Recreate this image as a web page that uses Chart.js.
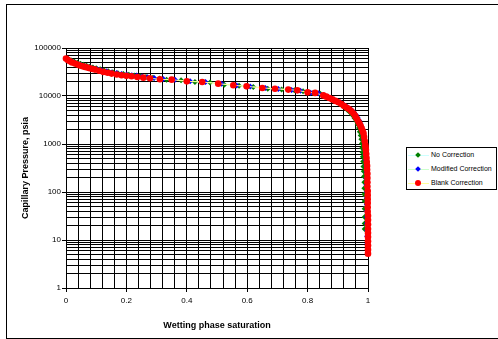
<!DOCTYPE html>
<html>
<head>
<meta charset="utf-8">
<script src="https://cdn.jsdelivr.net/npm/chart.js@4.4.0/dist/chart.umd.min.js"></script>
<style>
  body { margin: 0; background: #fff; font-family: "Liberation Sans", Arial, sans-serif; }
  #wrap { position: relative; width: 498px; height: 339px; overflow: hidden; }
  #frame { position: absolute; left: 6px; top: 4px; width: 600px; height: 333px; border: 1px solid #000; pointer-events: none; }
  #legend { position: absolute; left: 406px; top: 147px; width: 89px; height: 41px; border: 1px solid #000; background: #fff; font-size: 7px; color: #000; }
  .row { position: absolute; left: 0; width: 100%; height: 14px; }
  .ln { position: absolute; left: 1px; width: 21px; top: 7px; height: 1px; }
  .mk { position: absolute; }
  .t { position: absolute; left: 24px; top: 2px; line-height: 10px; white-space: nowrap; color: #000; }
</style>
</head>
<body>
<div id="wrap">
  <canvas id="chart" width="498" height="339"></canvas>
  <div id="frame"></div>
  <div id="legend"></div>
</div>
<script>
// Datos (saturación, presión capilar psia)
const seriesNames = ['No Correction', 'Modified Correction', 'Blank Correction'];

const satNoCorr = [0.008, 0.018, 0.028, 0.038, 0.048, 0.058, 0.068, 0.078, 0.089, 0.1,
  0.113, 0.126, 0.14, 0.155, 0.172, 0.19, 0.208, 0.226, 0.245, 0.265,
  0.288, 0.31, 0.333, 0.381, 0.427, 0.477, 0.524, 0.573, 0.62, 0.668,
  0.714, 0.756, 0.785, 0.818, 0.842,
  0.858, 0.869, 0.88, 0.891, 0.902, 0.912, 0.922, 0.931, 0.94, 0.948,
  0.955, 0.961, 0.966, 0.97, 0.973, 0.976, 0.978, 0.98, 0.981, 0.982,
  0.983, 0.984, 0.985, 0.986, 0.987, 0.988, 0.988, 0.988, 0.989, 0.989,
  0.989, 0.989, 0.989];
const pcNoCorr = [58500, 55000, 52000, 49200, 46800, 44600, 42600, 40800, 39200, 37700,
  36000, 34400, 32800, 31300, 29900, 28600, 27600, 26700, 25800, 24900,
  24000, 23100, 21900, 21200, 19600, 19000, 17200, 16400, 15400, 14200,
  13700, 13200, 12600, 11600, 11200,
  10000, 9300, 8600, 7900, 7200, 6500, 5800, 5200, 4600, 4000,
  3500, 3000, 2550, 2150, 1800, 1500, 1250, 1020, 830, 670,
  540, 430, 340, 270, 210, 160, 120, 90, 65, 45,
  30, 22, 17];

const satModified = [0.004, 0.012, 0.021, 0.03, 0.04, 0.05, 0.06, 0.07, 0.08, 0.092,
  0.104, 0.118, 0.135, 0.151, 0.168, 0.184, 0.201, 0.218, 0.234, 0.252,
  0.27, 0.292, 0.322, 0.361, 0.411, 0.462, 0.515, 0.565, 0.61, 0.66,
  0.703, 0.747, 0.776, 0.81, 0.836,
  0.855, 0.866, 0.877, 0.888, 0.899, 0.91, 0.92, 0.93, 0.939, 0.947,
  0.954, 0.96, 0.966, 0.971, 0.975, 0.979, 0.982, 0.985, 0.987, 0.989,
  0.991, 0.992, 0.993, 0.994, 0.995, 0.995, 0.995, 0.996, 0.996, 0.996,
  0.996, 0.996, 0.996, 0.997, 0.997, 0.998, 0.999, 1];
const pcModified = [59500, 55500, 52000, 48800, 46300, 44000, 42200, 40600, 39200, 37600,
  36200, 34500, 32700, 31000, 30200, 28900, 27900, 27200, 26600, 25500,
  24600, 23600, 22500, 21700, 20300, 19500, 17900, 16600, 15800, 14600,
  14000, 13400, 12900, 11700, 11400,
  10200, 9600, 9000, 8400, 7800, 7200, 6600, 6000, 5500, 5000,
  4500, 4000, 3500, 3050, 2650, 2250, 1900, 1550, 1250, 1000,
  780, 600, 460, 350, 260, 190, 140, 100, 75, 55,
  40, 30, 22, 16, 12, 8.5, 6.5, 5.2];

const satBlank = [0, 0.006, 0.013, 0.02, 0.03, 0.038, 0.046, 0.055, 0.063, 0.071,
  0.079, 0.088, 0.096, 0.11, 0.124, 0.138, 0.151, 0.168, 0.184, 0.2,
  0.217, 0.236, 0.256, 0.278, 0.311, 0.35, 0.4, 0.451, 0.504, 0.554,
  0.598, 0.65, 0.692, 0.736, 0.766, 0.8, 0.825,
  0.852, 0.862, 0.872, 0.882, 0.892, 0.902, 0.912, 0.921, 0.93, 0.938,
  0.945, 0.952, 0.958, 0.963, 0.968, 0.972, 0.976, 0.979, 0.982, 0.985,
  0.987, 0.989, 0.991, 0.992, 0.993, 0.994, 0.995, 0.996, 0.997, 0.997,
  0.998, 0.998, 0.998, 0.998, 0.999, 0.999, 0.999, 0.999, 0.999, 0.999,
  1, 1, 1, 1, 1, 1, 1, 1, 1, 1];
const pcBlank = [60300, 56500, 53000, 50000, 47400, 45200, 43100, 41700, 40400, 39100,
  37800, 36600, 35500, 33600, 31800, 30500, 29300, 28100, 27000, 26300,
  25700, 24900, 24100, 23400, 22300, 21900, 20200, 19600, 18100, 16700,
  15900, 14700, 14200, 13600, 13100, 11900, 11600,
  10300, 9700, 9100, 8500, 7900, 7400, 6800, 6200, 5700, 5300,
  4800, 4300, 3800, 3350, 2940, 2650, 2350, 2100, 1880, 1680,
  1400, 1150, 950, 850, 750, 620, 510, 420, 350, 290,
  240, 195, 160, 130, 105, 86, 71, 59, 48, 39,
  32, 26, 21, 17, 14, 11.5, 9.4, 7.7, 6.3, 5.2];

const xTickLabels = [0, 0.2, 0.4, 0.6, 0.8, 1];
const yTickLabels = [1, 10, 100, 1000, 10000, 100000];

const markerColors = ['#008000', '#0000ff', '#ff0000'];
const lineColors = ['#ccffff', '#ccffcc', '#ffff99'];
const markerStyles = ['rectRot', 'rectRot', 'circle'];
const markerSizes = [3, 3, 3.3];

const FONT = '"Liberation Sans", Arial, sans-serif';

function puntos(sat, pc) {
    return sat.map((s, i) => ({ x: s, y: pc[i] }));
}

const series = [
    puntos(satNoCorr, pcNoCorr),
    puntos(satModified, pcModified),
    puntos(satBlank, pcBlank)
];

const datasets = series.map((data, i) => ({
    label: seriesNames[i],
    data: data,
    showLine: true,
    borderColor: lineColors[i],
    borderWidth: 1,
    pointStyle: markerStyles[i],
    pointRadius: markerSizes[i],
    pointHoverRadius: markerSizes[i],
    pointBackgroundColor: markerColors[i],
    pointBorderColor: markerColors[i],
    pointBorderWidth: 0,
    clip: false,
    order: 3 - i   // la serie roja queda encima
}));

// marcas solo donde hay etiqueta
const tickColor = ctx => (ctx.tick && ctx.tick.label !== '' ? '#000' : 'rgba(0,0,0,0)');

new Chart(document.getElementById('chart').getContext('2d'), {
    type: 'scatter',
    data: { datasets },
    options: {
        responsive: false,
        animation: false,
        devicePixelRatio: 1,
        layout: { padding: { top: 48, right: 130, bottom: 0, left: 0 } },
        plugins: { legend: { display: false }, tooltip: { enabled: false } },
        scales: {
            x: {
                type: 'linear',
                min: 0,
                max: 1,
                afterFit: s => { s.height = 51; },
                ticks: {
                    stepSize: 0.04,
                    maxTicksLimit: 40,
                    autoSkip: false,
                    maxRotation: 0,
                    minRotation: 0,
                    padding: 4,
                    color: '#000',
                    font: { size: 8, family: FONT },
                    callback: v => {
                        const k = Math.round(v * 100);
                        const hit = xTickLabels.find(t => Math.round(t * 100) === k);
                        return hit === undefined ? '' : String(hit);
                    }
                },
                grid: { color: '#000', lineWidth: 1, tickLength: 4, tickColor },
                border: { color: '#000', width: 1 },
                title: {
                    display: true,
                    text: 'Wetting phase saturation',
                    color: '#000',
                    font: { size: 9, weight: 'bold', family: FONT },
                    padding: { top: 0, bottom: 8 }
                }
            },
            y: {
                type: 'logarithmic',
                min: 1,
                max: 100000,
                afterFit: s => { s.width = 66; },
                afterBuildTicks: s => {
                    const t = [];
                    for (let e = 0; e < 5; e++) {
                        for (let m = 1; m < 10; m++) t.push({ value: m * Math.pow(10, e) });
                    }
                    t.push({ value: 100000 });
                    s.ticks = t;
                },
                ticks: {
                    autoSkip: false,
                    padding: 1,
                    color: '#000',
                    font: { size: 8, family: FONT },
                    callback: v => (yTickLabels.includes(v) ? String(v) : '')
                },
                grid: { color: '#000', lineWidth: 1, tickLength: 4, tickColor },
                border: { color: '#000', width: 1 },
                title: {
                    display: true,
                    text: 'Capillary Pressure, psia',
                    color: '#000',
                    font: { size: 9, weight: 'bold', family: FONT },
                    padding: { top: 20, bottom: 0 }
                }
            }
        }
    }
});

// Leyenda
const legend = document.getElementById('legend');
legend.innerHTML = seriesNames.map((name, i) => {
    const mk = markerStyles[i] === 'circle'
        ? `<div class="mk" style="left:8px;top:4px;width:6px;height:6px;border-radius:50%;background:${markerColors[i]}"></div>`
        : `<div class="mk" style="left:9px;top:5px;width:4px;height:4px;transform:rotate(45deg);background:${markerColors[i]}"></div>`;
    return `<div class="row" style="top:${i * 14}px">
        <div class="ln" style="background:${lineColors[i]}"></div>${mk}
        <span class="t">${name}</span>
    </div>`;
}).join('');
</script>
</body>
</html>
